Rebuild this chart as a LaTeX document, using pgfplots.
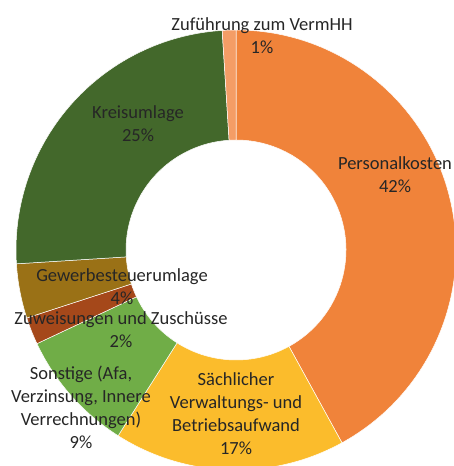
\documentclass[border=0pt]{standalone}
\usepackage{fontspec}
\setmainfont{Carlito}
\usepackage{pgfplots}
\usepackage{pgfplotstable}
\pgfplotsset{compat=1.18}

% slice colours, in table order
\definecolor{c0}{HTML}{F0833A} % Personalkosten
\definecolor{c1}{HTML}{FBBC2C} % Saechlicher Verwaltungs- und Betriebsaufwand
\definecolor{c2}{HTML}{70AD47} % Sonstige
\definecolor{c3}{HTML}{A5481A} % Zuweisungen und Zuschuesse
\definecolor{c4}{HTML}{9A7116} % Gewerbesteuerumlage
\definecolor{c5}{HTML}{43682B} % Kreisumlage
\definecolor{c6}{HTML}{F49D66} % Zufuehrung zum VermHH
\definecolor{lbl}{HTML}{262626}

\pgfplotstableread{
share
42
17
9
2
4
25
1
}\shares

\begin{document}
\begin{tikzpicture}
\useasboundingbox (0,0) rectangle (454pt,466pt);
% start/end angle of every slice, clockwise from 12 o'clock
\pgfplotstablegetrowsof{\shares}
\pgfmathtruncatemacro\nlast{\pgfplotsretval-1}
\xdef\cum{90}
\foreach \i in {0,...,\nlast}{
  \pgfplotstablegetelem{\i}{share}\of\shares
  \pgfmathsetmacro\endang{\cum-3.6*\pgfplotsretval}
  \expandafter\xdef\csname sa\i\endcsname{\cum}
  \expandafter\xdef\csname ea\i\endcsname{\endang}
  \xdef\cum{\endang}
}
\begin{axis}[
    at={(0,0)}, anchor=south west,
    hide axis,
    scale only axis,
    width=454pt, height=466pt,
    xmin=0, xmax=454, ymin=0, ymax=466,
    clip=true,
  ]
  \coordinate (C) at (axis cs:236,216);
  \pgfplotsinvokeforeach{0,...,6}{
    \edef\temp{\noexpand\fill[fill=c#1, draw=white, line width=0.5pt]
      ([shift={(\csname sa#1\endcsname:220pt)}]C)
      arc[start angle=\csname sa#1\endcsname, end angle=\csname ea#1\endcsname, radius=220pt]
      -- ([shift={(\csname ea#1\endcsname:110pt)}]C)
      arc[start angle=\csname ea#1\endcsname, end angle=\csname sa#1\endcsname, radius=110pt]
      -- cycle;}
    \temp
  }
  \tikzset{lab/.style={align=center, text=lbl, inner sep=0pt,
      font=\fontsize{18.5}{23}\selectfont}}
  \node[lab] at (axis cs:262,430.5) {Zuführung zum VermHH\\1\%};
  \node[lab] at (axis cs:138,342) {Kreisumlage\\25\%};
  \node[lab] at (axis cs:395,291) {Personalkosten\\42\%};
  \node[lab] at (axis cs:236,52) {Sächlicher\\Verwaltungs- und\\Betriebsaufwand\\17\%};
  \node[lab] at (axis cs:81,58.5) {Sonstige (Afa,\\Verzinsung, Innere\\Verrechnungen)\\9\%};
  \node[lab] at (axis cs:121,136) {Zuweisungen und Zuschüsse\\2\%};
  \node[lab] at (axis cs:122,179.5) {Gewerbesteuerumlage\\4\%};
\end{axis}
\end{tikzpicture}
\end{document}
